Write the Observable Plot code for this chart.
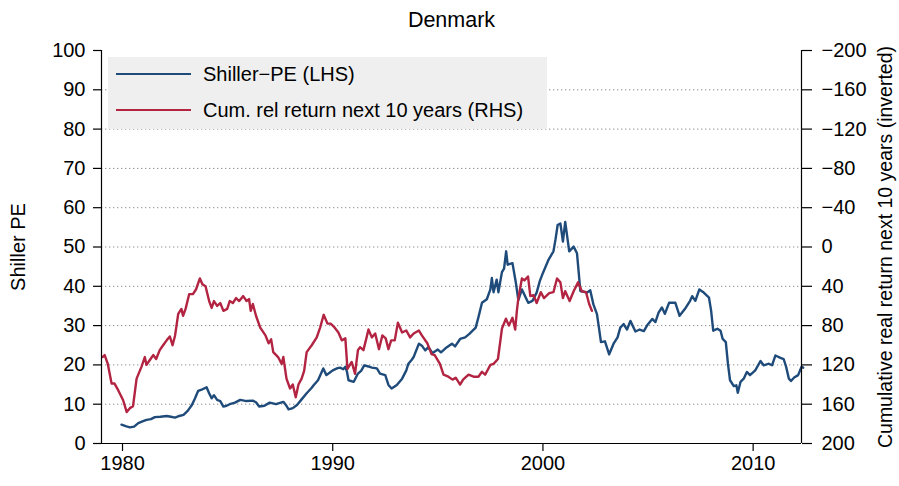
<!DOCTYPE html>
<html>
<head>
<meta charset="utf-8">
<script src="https://cdn.jsdelivr.net/npm/d3@7"></script>
<script src="https://cdn.jsdelivr.net/npm/@observablehq/plot@0.6"></script>
<style>
  html, body { margin: 0; padding: 0; background: #fff; }
  #wrap { position: relative; width: 899px; height: 486px; font-family: "Liberation Sans", Arial, Helvetica, sans-serif; }
  #legend { position: absolute; left: 108px; top: 57px; width: 439px; height: 72px; background: #efefef; font-size: 20px; color: #000; }
  .item { position: absolute; left: 8px; height: 24px; display: flex; align-items: center; }
  .sw { width: 75px; height: 0; border-top: 2.5px solid; margin-right: 12px; }
</style>
</head>
<body>
<div id="wrap"></div>
<script>
const title = "Denmark";
const leftLabel = "Shiller PE";
const rightLabel = "Cumulative real return next 10 years (inverted)";
const seriesNames = ["Shiller\u2212PE (LHS)", "Cum. rel return next 10 years (RHS)"];
const colors = ["#1F4B7B", "#B22442"];
const xDomain = [1979, 2012.3];
const yDomain = [0, 100];
const xTicks = [1980, 1990, 2000, 2010];
const leftTicks = [0, 10, 20, 30, 40, 50, 60, 70, 80, 90, 100];
const gridTicks = [10, 20, 30, 40, 50, 60, 70, 80, 90];
const rightTicks = [200, 160, 120, 80, 40, 0, -40, -80, -120, -160, -200];

// Shiller PE (left axis)
const peYears = [1979.95,1980.15,1980.35,1980.55,1980.75,1980.95,1981.14,1981.35,1981.54,1981.8,1982.1,1982.3,1982.5,1982.7,1982.9,1983.1,1983.3,1983.45,1983.6,1983.8,1984.0,1984.12,1984.24,1984.35,1984.5,1984.65,1984.8,1984.95,1985.1,1985.35,1985.6,1985.9,1986.2,1986.35,1986.5,1986.75,1987.0,1987.3,1987.65,1987.8,1987.9,1988.1,1988.3,1988.5,1988.76,1989.0,1989.1,1989.3,1989.55,1989.7,1989.85,1990.0,1990.2,1990.35,1990.5,1990.6,1990.68,1990.75,1991.0,1991.2,1991.35,1991.5,1991.7,1991.86,1992.1,1992.25,1992.5,1992.65,1992.8,1993.05,1993.3,1993.5,1993.6,1993.76,1993.85,1994.1,1994.24,1994.4,1994.55,1994.75,1995.0,1995.15,1995.43,1995.67,1995.82,1996.06,1996.3,1996.5,1996.8,1996.93,1997.1,1997.33,1997.5,1997.57,1997.65,1997.8,1997.88,1998.05,1998.15,1998.25,1998.32,1998.55,1998.7,1998.83,1999.0,1999.15,1999.3,1999.5,1999.7,1999.85,2000.0,2000.27,2000.5,2000.6,2000.7,2000.83,2000.95,2001.06,2001.25,2001.46,2001.62,2001.78,2002.1,2002.25,2002.4,2002.57,2002.65,2002.76,2002.95,2003.15,2003.36,2003.55,2003.68,2003.84,2004.0,2004.16,2004.4,2004.6,2004.8,2004.95,2005.2,2005.35,2005.5,2005.66,2005.8,2006.0,2006.3,2006.5,2006.75,2007.0,2007.1,2007.25,2007.44,2007.65,2007.9,2008.0,2008.1,2008.3,2008.45,2008.55,2008.7,2008.8,2008.9,2009.08,2009.2,2009.27,2009.4,2009.55,2009.7,2009.85,2010.1,2010.35,2010.5,2010.75,2010.9,2011.06,2011.3,2011.45,2011.57,2011.7,2011.8,2011.95,2012.14,2012.3,2012.38];
const peValues = [4.8,4.4,4.1,4.3,5.2,5.6,6.0,6.2,6.7,6.8,7.0,6.8,6.6,7.0,7.3,8.3,9.8,11.5,13.4,13.8,14.3,12.8,11.5,12.3,11.1,10.8,9.4,9.6,10.0,10.4,11.1,10.8,10.9,10.5,9.4,9.6,10.4,10.0,10.6,9.6,8.7,9.0,9.8,11.1,12.8,14.2,14.9,16.1,19.1,17.4,18.0,18.6,19.1,19.3,18.9,19.5,18.2,16.1,15.7,17.8,18.5,19.9,19.6,19.3,19.1,17.8,17.4,14.9,14.0,14.9,16.5,18.6,20.3,21.3,22.0,25.4,24.9,23.7,24.5,23.0,23.9,23.2,24.5,25.4,24.7,26.6,27.0,27.9,29.5,32.1,35.8,36.7,39.2,42.1,38.5,41.7,38.5,43.6,44.5,48.9,45.5,45.9,41.3,36.5,39.2,37.5,35.8,36.3,38.4,41.3,43.4,46.8,48.9,52.0,55.6,56.0,51.4,56.4,48.9,50.1,48.4,38.8,38.4,39.0,35.4,32.9,30.0,25.8,26.0,22.7,25.4,27.0,29.5,30.4,29.0,31.2,28.5,29.0,28.6,30.0,31.7,30.9,33.3,34.6,33.0,35.8,35.8,32.5,34.2,36.3,37.5,36.3,39.2,38.4,37.1,33.8,28.7,29.2,28.7,26.6,25.8,20.3,16.1,14.6,14.8,12.9,15.7,16.5,18.2,17.4,18.6,21.0,19.9,20.3,19.9,22.4,21.8,21.5,19.5,16.5,15.9,16.8,17.4,19.5,19.3];

// Cumulative relative return next 10 years (right axis, inverted)
const retYears = [1979.05,1979.15,1979.3,1979.48,1979.62,1979.8,1980.03,1980.2,1980.35,1980.5,1980.67,1980.9,1981.06,1981.14,1981.3,1981.46,1981.6,1981.77,1981.93,1982.1,1982.25,1982.38,1982.5,1982.65,1982.8,1982.88,1983.0,1983.17,1983.35,1983.5,1983.68,1983.8,1983.95,1984.12,1984.24,1984.35,1984.5,1984.65,1984.8,1984.98,1985.1,1985.25,1985.4,1985.55,1985.74,1985.9,1986.02,1986.1,1986.2,1986.35,1986.55,1986.8,1986.95,1987.07,1987.17,1987.4,1987.57,1987.65,1987.8,1987.97,1988.1,1988.24,1988.37,1988.52,1988.64,1988.76,1989.0,1989.24,1989.4,1989.57,1989.75,1989.9,1990.05,1990.27,1990.43,1990.6,1990.7,1990.9,1991.06,1991.2,1991.3,1991.46,1991.6,1991.7,1991.86,1992.02,1992.2,1992.36,1992.52,1992.65,1992.78,1992.95,1993.1,1993.3,1993.5,1993.68,1993.85,1994.1,1994.24,1994.5,1994.7,1994.85,1995.1,1995.27,1995.5,1995.7,1995.85,1996.06,1996.2,1996.46,1996.7,1996.93,1997.1,1997.25,1997.5,1997.65,1997.86,1998.05,1998.24,1998.38,1998.55,1998.68,1998.76,1998.83,1999.0,1999.12,1999.29,1999.4,1999.55,1999.7,1999.9,2000.05,2000.3,2000.5,2000.67,2000.83,2000.95,2001.06,2001.27,2001.46,2001.67,2001.85,2002.05,2002.2,2002.33];
const retValues = [112,110,119,139,139,146,156,168,164,162,134,122,112,120,115,110,114,105,100,95,91,100,90,68,63,70,63,48,48,43,32,38,40,55,62,55,60,57,65,63,55,57,52,55,50,55,53,65,58,70,82,90,98,94,107,112,119,112,134,144,140,153,140,134,126,107,100,92,82,69,78,78,81,87,95,93,124,117,129,105,102,105,93,84,92,88,104,90,93,104,95,95,77,87,85,92,88,85,90,98,109,110,119,130,132,135,133,140,135,130,132,132,127,130,120,119,114,83,73,80,72,84,65,52,32,34,30,50,49,57,46,52,47,46,32,36,52,45,55,45,36,45,46,58,65];

// map right-axis value onto left-axis scale: right 200 -> 0, right -200 -> 100
const toLeft = r => (200 - r) / 4;
const toRight = l => 200 - 4 * l;

const font = "'Liberation Sans', Arial, Helvetica, sans-serif";

const chart = Plot.plot({
  width: 899,
  height: 486,
  marginTop: 50,
  marginBottom: 43,
  marginLeft: 101,
  marginRight: 98,
  style: { fontSize: "20px", fontFamily: font, color: "#000", background: "#fff" },
  x: { domain: xDomain },
  y: { domain: yDomain },
  marks: [
    Plot.gridY(gridTicks, { stroke: "#8a8a8a", strokeOpacity: 1, strokeWidth: 1, strokeDasharray: "1.3,2.7" }),
    Plot.line(peValues, { x: peYears, y: peValues, stroke: colors[0], strokeWidth: 2.4, curve: "linear" }),
    Plot.line(retValues, { x: retYears, y: retValues.map(toLeft), stroke: colors[1], strokeWidth: 2.4, curve: "linear" }),
    Plot.ruleY([yDomain[0]], { stroke: "#000", strokeWidth: 1.2 }),
    Plot.ruleX(xDomain, { stroke: "#000", strokeWidth: 1.2 }),
    Plot.axisY(leftTicks, { anchor: "left", tickSize: 8, tickPadding: 8, label: null, tickFormat: "d", strokeWidth: 1.2 }),
    Plot.axisY(rightTicks.map(toLeft), { anchor: "right", tickSize: 10, tickPadding: 10, label: null, tickFormat: d => d3.format("d")(toRight(d)), strokeWidth: 1.2 }),
    Plot.axisX(xTicks, { anchor: "bottom", tickSize: 8, tickPadding: 4, label: null, tickFormat: "d", strokeWidth: 1.2 }),
    Plot.text([title], { frameAnchor: "top", lineAnchor: "middle", dy: -30, fontSize: 21.5, fill: "#000" }),
    Plot.text([leftLabel], { frameAnchor: "left", textAnchor: "middle", lineAnchor: "middle", dx: -83, rotate: -90, fontSize: 20, fill: "#000" }),
    Plot.text([rightLabel], { frameAnchor: "right", textAnchor: "middle", lineAnchor: "middle", dx: 84, rotate: -90, fontSize: 19.5, fill: "#000" })
  ]
});

const wrap = document.getElementById("wrap");
wrap.appendChild(chart);

const legend = document.createElement("div");
legend.id = "legend";
seriesNames.forEach((name, i) => {
  const item = document.createElement("div");
  item.className = "item";
  item.style.top = (i === 0 ? 5 : 41) + "px";
  const sw = document.createElement("span");
  sw.className = "sw";
  sw.style.borderTopColor = colors[i];
  const tx = document.createElement("span");
  tx.textContent = name;
  item.appendChild(sw);
  item.appendChild(tx);
  legend.appendChild(item);
});
wrap.appendChild(legend);
</script>
</body>
</html>
